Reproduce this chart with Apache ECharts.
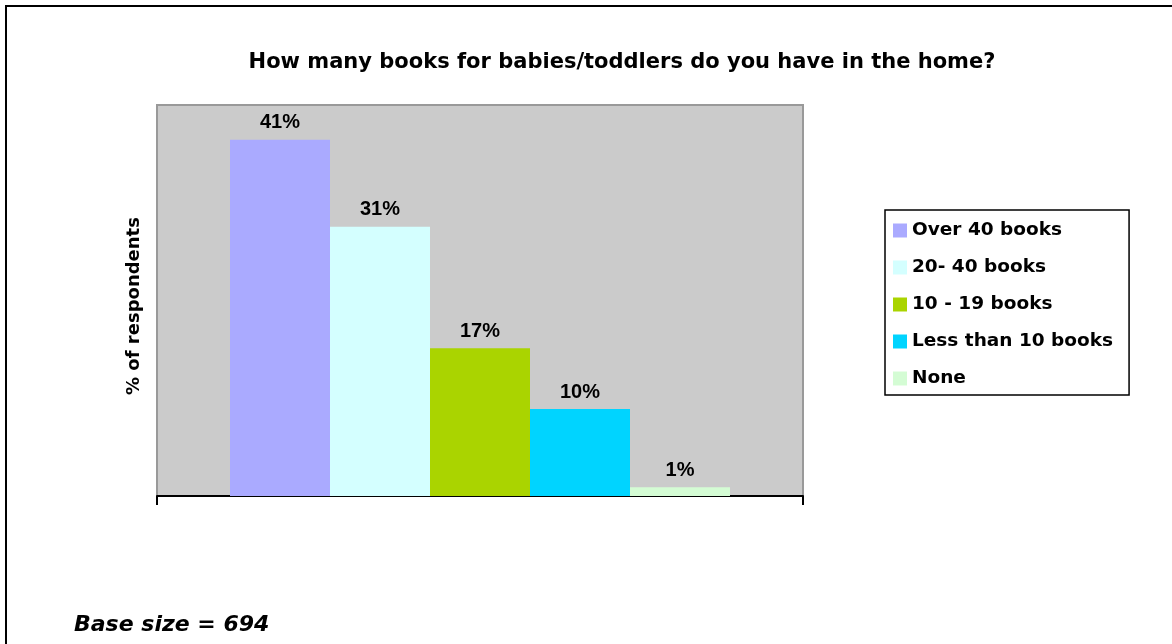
<!DOCTYPE html>
<html>
<head>
<meta charset="utf-8">
<script src="https://cdn.jsdelivr.net/npm/echarts@6/dist/echarts.min.js"></script>
<style>
  html, body { margin: 0; padding: 0; background: #ffffff; }
  #chart { width: 1172px; height: 644px; }
</style>
</head>
<body>
<div id="chart"></div>
<script>
// Survey answers: number of baby/toddler books in the home
const seriesNames = ['Over 40 books', '20- 40 books', '10 - 19 books', 'Less than 10 books', 'None'];
const percentValues = [41, 31, 17, 10, 1];
const barColors = ['#aaaaff', '#d4ffff', '#aad400', '#00d4ff', '#d4fcd4'];
const categories = [''];

const WIDE = '"DejaVu Sans", "Liberation Sans", Arial, sans-serif';
const NARROW = '"Liberation Sans", Arial, sans-serif';

const chart = echarts.init(document.getElementById('chart'), null, { renderer: 'canvas' });

const series = seriesNames.map((name, i) => ({
  name: name,
  type: 'bar',
  data: [percentValues[i]],
  barWidth: 100,
  barGap: '0%',
  itemStyle: { color: barColors[i] },
  label: {
    show: true,
    position: 'top',
    distance: 7,
    formatter: '{c}%',
    color: '#000',
    fontFamily: NARROW,
    fontWeight: 'bold',
    fontSize: 20
  }
}));

chart.setOption({
  animation: false,
  backgroundColor: '#ffffff',
  title: {
    text: 'How many books for babies/toddlers do you have in the home?',
    left: 617,
    textAlign: 'center',
    top: 47,
    textStyle: { fontFamily: WIDE, fontWeight: 'bold', fontSize: 21, color: '#000' }
  },
  grid: {
    left: 157, top: 105, width: 646, height: 391,
    show: true,
    backgroundColor: '#cbcbcb',
    borderColor: '#999999',
    borderWidth: 2
  },
  legend: {
    orient: 'vertical',
    left: 885,
    top: 210,
    icon: 'rect',
    itemWidth: 14,
    itemHeight: 14,
    itemGap: 18,
    padding: [11, 16, 7, 8],
    borderColor: '#000',
    borderWidth: 1.5,
    backgroundColor: '#fff',
    textStyle: { fontFamily: WIDE, fontWeight: 'bold', fontSize: 18.5, lineHeight: 18.5, color: '#000' },
    data: seriesNames
  },
  xAxis: {
    type: 'category',
    data: categories,
    axisLine: { lineStyle: { color: '#000', width: 2 } },
    axisTick: { show: true, length: 9, lineStyle: { color: '#000', width: 2 } },
    axisLabel: { show: false },
    splitLine: { show: false }
  },
  yAxis: {
    type: 'value',
    min: 0,
    max: 45,
    axisLine: { show: false },
    axisTick: { show: false },
    axisLabel: { show: false },
    splitLine: { show: false }
  },
  series: series,
  graphic: [
    {
      type: 'polyline',
      shape: { points: [[6, 644], [6, 6], [1172, 6]] },
      style: { stroke: '#000', lineWidth: 2, fill: null }
    },
    {
      // vertical value-axis title
      type: 'text',
      x: 134,
      y: 306,
      rotation: Math.PI / 2,
      style: {
        text: '% of respondents',
        font: 'bold 18px "DejaVu Sans", "Liberation Sans", Arial, sans-serif',
        align: 'center',
        verticalAlign: 'middle',
        fill: '#000'
      }
    },
    {
      type: 'text',
      left: 74,
      top: 614,
      style: {
        text: 'Base size = 694',
        font: 'italic bold 22px "DejaVu Sans", "Liberation Sans", Arial, sans-serif',
        fill: '#000'
      }
    }
  ]
});
</script>
</body>
</html>
